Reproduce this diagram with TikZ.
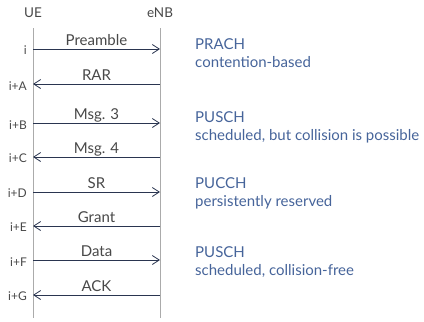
\documentclass[tikz,border=0pt]{standalone}
\usepackage{fontspec}
\setmainfont{Lato}
\usetikzlibrary{arrows.meta}
\definecolor{lifeline}{HTML}{ABABAB}
\definecolor{msgline}{HTML}{2A3550}
\definecolor{txtdark}{HTML}{484848}
\definecolor{note}{HTML}{46649A}
\tikzset{
  actor/.style={font=\fontsize{13.5}{16}\selectfont, text=txtdark, inner sep=0pt},
  life/.style={draw=lifeline, line width=0.9pt},
  msg/.style={draw=msgline, line width=0.8pt, -{Straight Barb[length=7pt,width=9pt]}},
  msglabel/.style={font=\fontsize{15}{18}\selectfont, text=txtdark, inner sep=0pt, anchor=base, yshift=3.5pt},
  tick/.style={font=\fontsize{12}{14}\selectfont, text=txtdark, inner sep=0pt, anchor=base east},
  notetxt/.style={font=\fontsize{15}{18}\selectfont, text=note, inner sep=0pt, anchor=base west}
}
\begin{document}
\begin{tikzpicture}[x=1pt,y=-1pt]
\useasboundingbox (0,0) rectangle (424,322);
% participants
\node[actor] (hdrUE) at (33,13) {UE};
\node[actor] (hdrENB) at (160,13) {eNB};
\coordinate (ueTop) at (33,28);
\coordinate (ueBot) at (33,318);
\coordinate (enbTop) at (160,28);
\coordinate (enbBot) at (160,318);
\draw[life] (ueTop) -- (ueBot);
\draw[life] (enbTop) -- (enbBot);
% message anchors on the lifelines
\foreach \n/\y in {A/49,B/84,C/123,D/157,E/192,F/226,G/260,H/295}{
  \coordinate (ue\n) at (33,\y);
  \coordinate (enb\n) at (160,\y);
}
\draw[msg] (ueA) -- (enbA) node[msglabel, midway] {Preamble};
\draw[msg] (enbB) -- (ueB) node[msglabel, midway] {RAR};
\draw[msg] (ueC) -- (enbC) node[msglabel, midway] {Msg. 3};
\draw[msg] (enbD) -- (ueD) node[msglabel, midway] {Msg. 4};
\draw[msg] (ueE) -- (enbE) node[msglabel, midway] {SR};
\draw[msg] (enbF) -- (ueF) node[msglabel, midway] {Grant};
\draw[msg] (ueG) -- (enbG) node[msglabel, midway] {Data};
\draw[msg] (enbH) -- (ueH) node[msglabel, midway] {ACK};
% time instants
\node[tick] (tA) at (27,54) {i};
\node[tick] (tB) at (27,90) {i+A};
\node[tick] (tC) at (27,129) {i+B};
\node[tick] (tD) at (27,162) {i+C};
\node[tick] (tE) at (27,197) {i+D};
\node[tick] (tF) at (27,231) {i+E};
\node[tick] (tG) at (27,266) {i+F};
\node[tick] (tH) at (27,300) {i+G};
% channel notes
\node[notetxt] (n1a) at (195,49.5) {PRACH};
\node[notetxt] (n1b) at (195,67.5) {contention-based};
\node[notetxt] (n2a) at (195,122) {PUSCH};
\node[notetxt] (n2b) at (195,140) {scheduled, but collision is possible};
\node[notetxt] (n3a) at (195,188.5) {PUCCH};
\node[notetxt] (n3b) at (195,206.5) {persistently reserved};
\node[notetxt] (n4a) at (195,257) {PUSCH};
\node[notetxt] (n4b) at (195,275) {scheduled, collision-free};
\end{tikzpicture}
\end{document}
